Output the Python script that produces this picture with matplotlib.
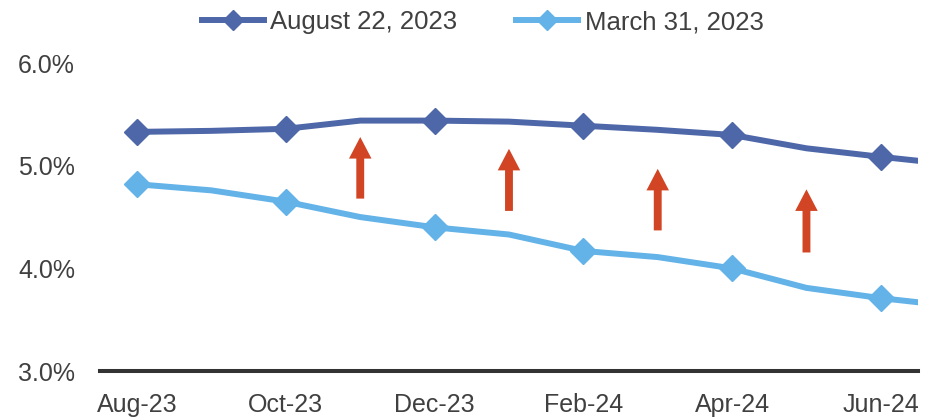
import matplotlib
matplotlib.use("Agg")
import matplotlib.pyplot as plt
import numpy as np

# monthly points, Aug-23 .. Jul-24 (last one sits past the axis edge)
months = ["Aug-23", "Sep-23", "Oct-23", "Nov-23", "Dec-23", "Jan-24",
          "Feb-24", "Mar-24", "Apr-24", "May-24", "Jun-24", "Jul-24"]
aug22 = [5.33, 5.34, 5.36, 5.44, 5.44, 5.43, 5.39, 5.35, 5.30, 5.17, 5.087, 5.01]
mar31 = [4.82, 4.76, 4.65, 4.50, 4.40, 4.33, 4.17, 4.11, 4.00, 3.81, 3.71, 3.63]

# red arrows: (month index, base, tip)
arrow_x = [3, 5, 7, 9]
arrow_base = [4.68, 4.56, 4.37, 4.155]
arrow_tip = [5.28, 5.165, 4.97, 4.77]

dark = "#4E67A8"
light = "#63B2E8"
red = "#D14424"
txt = "#404040"

plt.rcParams['font.family'] = ['Liberation Sans', 'DejaVu Sans']

fig = plt.figure(figsize=(9.43, 4.18), dpi=100)
ax = fig.add_axes([0.106, 0.1124, 0.8675, 0.7366])

x = np.arange(len(months))
marker_idx = list(range(0, 11, 2))
ax.plot(x, aug22, color=dark, lw=4.3, marker="D", markersize=13,
        markevery=marker_idx, label="August 22, 2023")
ax.plot(x, mar31, color=light, lw=4.3, marker="D", markersize=13,
        markevery=marker_idx, label="March 31, 2023")

# block arrows
for xi, b, t in zip(arrow_x, arrow_base, arrow_tip):
    ax.annotate("", xy=(xi, t), xytext=(xi, b),
                arrowprops=dict(arrowstyle="simple,head_length=1.15,head_width=1.2,tail_width=0.42",
                                mutation_scale=13.5, color=red, lw=0,
                                shrinkA=0, shrinkB=0))

ax.set_xlim(-0.5, 10.5)
ax.set_ylim(3.0, 6.0)
ax.set_xticks(marker_idx)
ax.set_xticklabels([months[i] for i in marker_idx])
ax.set_yticks([3.0, 4.0, 5.0, 6.0])
ax.set_yticklabels(["%.1f%%" % v for v in [3.0, 4.0, 5.0, 6.0]])
ax.tick_params(length=0, labelsize=18, colors=txt)
ax.tick_params(axis="y", pad=18)
ax.tick_params(axis="x", pad=16)

for s in ["top", "right", "left"]:
    ax.spines[s].set_visible(False)
ax.spines["bottom"].set_color("#333333")
ax.spines["bottom"].set_linewidth(2.9)

leg = fig.legend(loc="center", bbox_to_anchor=(0.512, 0.947), ncol=2,
                 frameon=False, fontsize=18.5, handlelength=2.4,
                 columnspacing=2.3, handletextpad=0.25, markerscale=0.75,
                 borderpad=0)
for t in leg.get_texts():
    t.set_color(txt)

fig.savefig("out.png", dpi=100)
